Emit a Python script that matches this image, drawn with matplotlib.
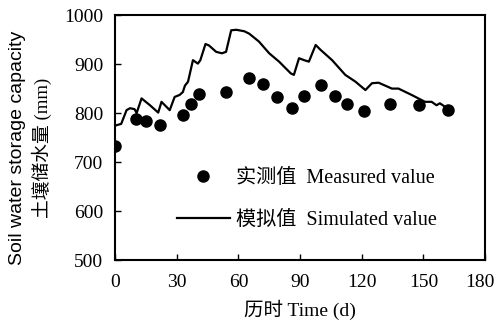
import matplotlib
matplotlib.use('Agg')
import matplotlib.pyplot as plt
import matplotlib.transforms as mtransforms
from matplotlib.lines import Line2D

# measured soil water storage (mm)
meas_days = [0, 10, 15, 22, 33, 37, 41, 54, 65, 72, 79, 86, 92, 100, 107, 113, 121, 134, 148, 162]
meas_vals = [733, 788, 784, 776, 797, 818, 838, 843, 871, 859, 832, 811, 835, 857, 835, 818, 804, 818, 816, 806]

# simulated curve
sim_days = [0.5, 3, 5.6, 7.3, 9.5, 10.5, 12.9, 17, 21, 22.6, 26.6, 29, 31.4, 33, 34, 35.5,
            37.9, 40.3, 41.5, 44, 45.7, 49.2, 52, 54, 56.5, 59, 62.9, 65.3, 70, 75, 79.8,
            85.5, 87, 89.5, 92, 94.3, 97.6, 100, 105.6, 112, 117, 121.8, 125, 128.2,
            134.7, 137.9, 144.3, 150.8, 154, 156.4, 158, 160.5]
sim_vals = [775, 778, 806, 810, 808, 800, 830, 816, 801, 823, 806, 833, 837, 843, 856, 864,
            908, 901, 908, 941, 938, 925, 922, 925, 969, 970, 967, 962, 946, 922, 905,
            881, 878, 912, 908, 905, 939, 929, 908, 878, 864, 847, 861, 862,
            850, 850, 837, 823, 823, 816, 820, 813]

x_ticks = [0, 30, 60, 90, 120, 150, 180]
y_ticks = [500, 600, 700, 800, 900, 1000]

serif = ['Liberation Serif', 'Noto Sans CJK SC']
plt.rcParams['font.family'] = serif

fig = plt.figure(figsize=(4.98, 3.28), dpi=100)
ax = fig.add_axes([0.231, 0.207, 0.743, 0.747])

ax.plot(sim_days, sim_vals, color='black', lw=1.6)
ax.plot(meas_days, meas_vals, 'o', color='black', ms=8)

ax.set_xlim(0, 180)
ax.set_ylim(500, 1000)
ax.set_xticks(x_ticks)
ax.set_yticks(y_ticks)
ax.tick_params(direction='in', labelsize=14, length=4, width=1)
ax.tick_params(axis='x', pad=10)
ax.tick_params(axis='y', pad=8.5)
for s in ax.spines.values():
    s.set_linewidth(1.5)

# last x label nudged left so it stays inside the figure
last = ax.get_xticklabels()[-1]
last.set_transform(last.get_transform() + mtransforms.ScaledTranslation(-5 / 100, 0, fig.dpi_scale_trans))

ax.set_xlabel('历时 Time (d)', fontsize=14, labelpad=6)

fig.text(0.035, 0.55, 'Soil water storage capacity', rotation=90, ha='center', va='center',
         fontsize=14, family=['Liberation Sans', 'Noto Sans CJK SC'])
fig.text(0.085, 0.55, '土壤储水量 (mm)', rotation=90, ha='center', va='center',
         fontsize=13.5, family=serif)

handles = [Line2D([], [], marker='o', ls='none', color='black', ms=8),
           Line2D([], [], color='black', lw=1.6)]
ax.legend(handles, ['实测值  Measured value', '模拟值  Simulated value'],
          loc='lower left', bbox_to_anchor=(0.119, 0.048), frameon=False, fontsize=14.5,
          handlelength=2.6, labelspacing=1.15, handletextpad=0.3)

plt.savefig('out.png', dpi=100)
plt.close()
